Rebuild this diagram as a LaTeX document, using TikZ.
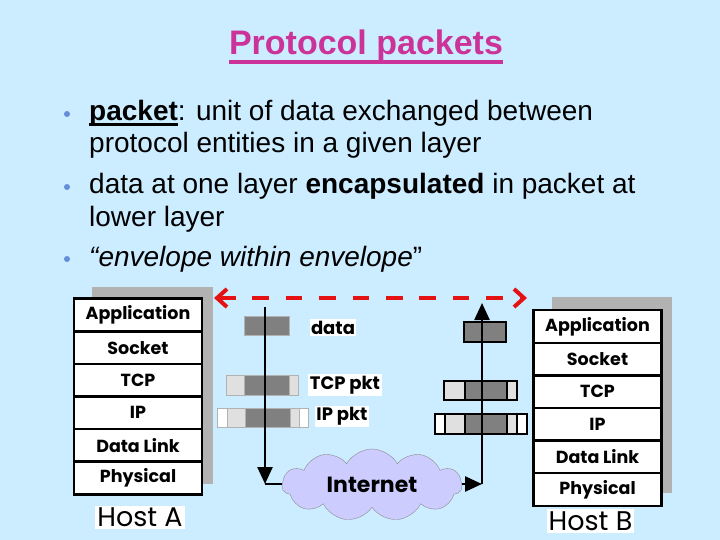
\documentclass[tikz,border=0pt]{standalone}
\usepackage{fontspec}
\setmainfont{Liberation Sans}
\newfontfamily\gothicfont{Poppins}
\usetikzlibrary{positioning, arrows.meta, shapes.symbols}

\definecolor{slideblue}{RGB}{204,236,255}
\definecolor{titlemagenta}{RGB}{204,51,153}
\definecolor{bulletblue}{RGB}{102,140,220}
\definecolor{peerred}{RGB}{228,18,18}
\definecolor{cloudlilac}{RGB}{204,204,255}
\definecolor{pktdark}{RGB}{128,128,128}
\definecolor{pktlight}{RGB}{224,224,224}
\definecolor{shadowgray}{RGB}{178,178,178}

% thick underline: depth, thickness, text
\newcommand{\barunder}[3]{{\setbox0=\hbox{#3}\rlap{\rule[-#1]{\wd0}{#2}}\box0}}

\begin{document}
\begin{tikzpicture}[
    x=1pt, y=-1pt,
    heading/.style={anchor=base, inner sep=0pt, text=titlemagenta, font=\bfseries\fontsize{34}{40}\selectfont},
    bodyline/.style={anchor=base west, inner sep=0pt, font=\fontsize{28}{32}\selectfont},
    bulletdot/.style={circle, fill=bulletblue, inner sep=0pt, minimum size=6pt},
    stacklayer/.style={draw, line width=2.5pt, fill=white, minimum width=128pt, minimum height=32.6pt, outer sep=0pt, inner sep=0pt, font=\gothicfont\bfseries\fontsize{17.5}{20}\selectfont},
    hostshadow/.style={fill=shadowgray},
    host/.style={fill=white, inner sep=2pt, font=\gothicfont\fontsize{27}{30}\selectfont},
    pktlabel/.style={fill=white, inner sep=1.5pt, font=\gothicfont\bfseries\fontsize{18}{20}\selectfont},
    lpkt/.style={draw=black!30, thin},
    rpkt/.style={draw=black, line width=2.5pt},
    wire/.style={line width=2.5pt},
    arrow/.style={wire, -{Triangle[length=17pt, width=15pt]}},
    peer/.style={draw=peerred, line width=4pt, dash pattern=on 16.7pt off 16.7pt, {Straight Barb[length=10pt, width=18pt]}-{Straight Barb[length=10pt, width=18pt]}},
    net/.style={cloud, cloud puffs=11, cloud puff arc=120, cloud ignores aspect, minimum width=180pt, minimum height=72pt, fill=cloudlilac, draw=black!45, thin, font=\gothicfont\bfseries\fontsize{22}{24}\selectfont}
]
\fill[slideblue] (0,0) rectangle (720,540);
\useasboundingbox (0,0) rectangle (720,540);

\node[heading] (title) at (366,55) {\barunder{9pt}{3.5pt}{Protocol packets}};

\node[bulletdot] (dot1) at (67,114) {};
\node[bulletdot] (dot2) at (67,187) {};
\node[bulletdot] (dot3) at (67,259) {};
\node[bodyline] (l1) at (89,121) {\textbf{\barunder{5pt}{3pt}{packet}}: unit of data exchanged between};
\node[bodyline] (l2) at (89,153) {protocol entities in a given layer};
\node[bodyline] (l3) at (89,194) {data at one layer \textbf{encapsulated} in packet at};
\node[bodyline] (l4) at (89,226) {lower layer};
\node[bodyline] (l5) at (89,266) {\textit{“envelope within envelope}”};

% host A
\fill[hostshadow] (92,287) rectangle (213,484);
\node[stacklayer] (appA) at (138,315) {Application};
\node[stacklayer, below=0pt of appA] (sockA) {Socket};
\node[stacklayer, below=0pt of sockA] (tcpA) {TCP};
\node[stacklayer, below=0pt of tcpA] (ipA) {IP};
\node[stacklayer, below=0pt of ipA] (linkA) {Data Link};
\node[stacklayer, below=0pt of linkA] (physA) {Physical};
\node[host] (hostA) at (140,517.5) {Host A};

% host B
\fill[hostshadow] (552,297) rectangle (672,493);
\node[stacklayer] (appB) at (597.5,326.5) {Application};
\node[stacklayer, below=0pt of appB] (sockB) {Socket};
\node[stacklayer, below=0pt of sockB] (tcpB) {TCP};
\node[stacklayer, below=0pt of tcpB] (ipB) {IP};
\node[stacklayer, below=0pt of ipB] (linkB) {Data Link};
\node[stacklayer, below=0pt of linkB] (physB) {Physical};
\node[host] (hostB) at (590.5,521) {Host B};

% packets going down
\filldraw[lpkt, fill=pktdark] (244,316) rectangle (289,335);
\filldraw[lpkt, fill=pktlight] (226,375) rectangle (244,395);
\filldraw[lpkt, fill=pktdark] (244,375) rectangle (289,395);
\filldraw[lpkt, fill=pktlight] (289,375) rectangle (298,395);
\filldraw[lpkt, fill=white] (217,408) rectangle (227,427);
\filldraw[lpkt, fill=pktlight] (227,408) rectangle (245,427);
\filldraw[lpkt, fill=pktdark] (245,408) rectangle (290,427);
\filldraw[lpkt, fill=pktlight] (290,408) rectangle (299,427);
\filldraw[lpkt, fill=white] (299,408) rectangle (308,427);
\node[pktlabel] (datalbl) at (333,327.5) {data};
\node[pktlabel] (tcplbl) at (345,385) {TCP pkt};
\node[pktlabel] (iplbl) at (342,416.5) {IP pkt};

% packets going up
\filldraw[rpkt, fill=pktdark] (464,322) rectangle (506,342);
\filldraw[rpkt, fill=pktlight] (444,381) rectangle (465,400);
\filldraw[rpkt, fill=pktdark] (465,381) rectangle (507,400);
\filldraw[rpkt, fill=pktlight] (507,381) rectangle (517,400);
\filldraw[rpkt, fill=white] (435,414) rectangle (445,434);
\filldraw[rpkt, fill=pktlight] (445,414) rectangle (465,434);
\filldraw[rpkt, fill=pktdark] (465,414) rectangle (507,434);
\filldraw[rpkt, fill=pktlight] (507,414) rectangle (517,434);
\filldraw[rpkt, fill=white] (517,414) rectangle (527,434);

\node[net] (inet) at (372,485) {Internet};

\coordinate (downA) at (265,307);
\coordinate (turnA) at (265,484);
\coordinate (turnB) at (482,484);
\coordinate (upB) at (482,303);
\draw[arrow] (downA) -- (turnA);
\draw[wire] (turnA) -- (turnA -| inet.west);
\draw[arrow] (turnB -| inet.east) -- (turnB);
\draw[arrow] (turnB) -- (upB);

\coordinate (peerA) at (214,298);
\coordinate (peerB) at (527,298);
\draw[peer] (peerA) -- (peerB);
\end{tikzpicture}
\end{document}
